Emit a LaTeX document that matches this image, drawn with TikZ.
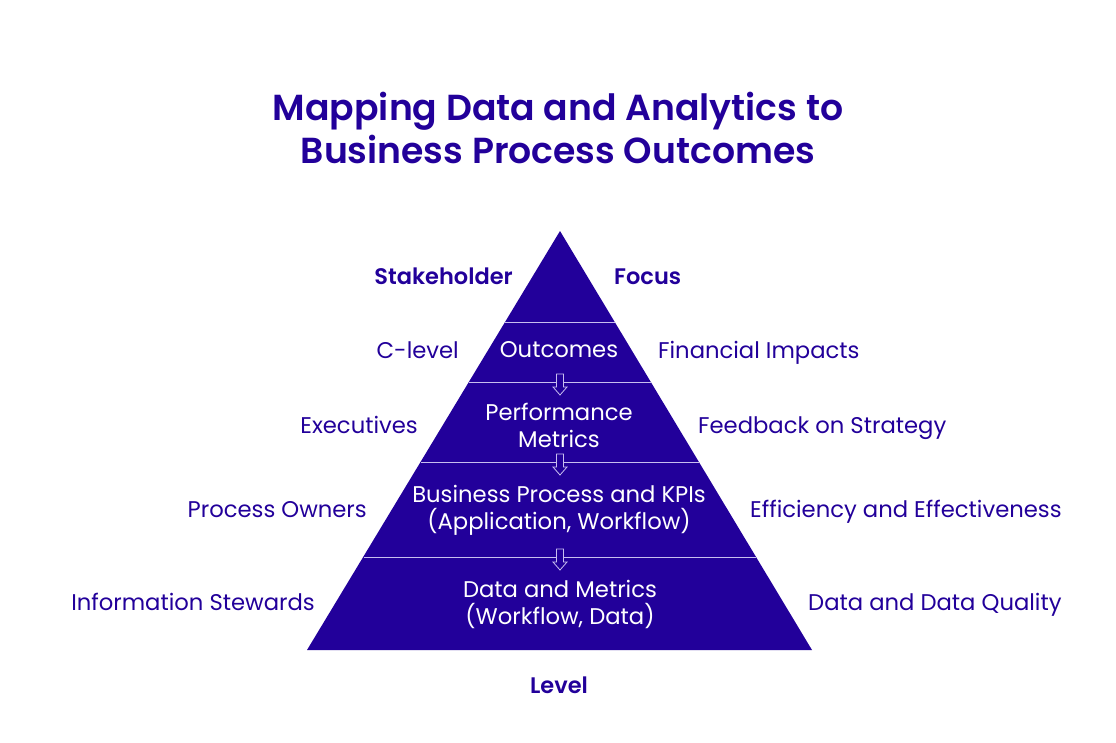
\documentclass[tikz,border=0pt]{standalone}
\usepackage{fontspec}
\setmainfont{Poppins}[BoldFont={Poppins SemiBold}]
\usetikzlibrary{calc}
\definecolor{indigo}{RGB}{34,0,154}
\definecolor{divline}{RGB}{200,190,240}
\begin{document}
\begin{tikzpicture}[x=1pt,y=-1pt,
  outlbl/.style={text=indigo,font=\fontsize{22.7}{27}\selectfont,inner sep=0pt,text height=16pt,text depth=0pt},
  inlbl/.style={text=white,font=\fontsize{22.7}{27}\selectfont,inner sep=0pt,align=center},
  headlbl/.style={text=indigo,font=\fontsize{22.5}{26}\selectfont\bfseries,inner sep=0pt,text height=16pt,text depth=0pt},
  divider/.style={draw=divline,line width=0.9pt},
  downarrow/.style={draw=divline,line width=0.8pt,fill=indigo}
]
\useasboundingbox (0,0) rectangle (1116,742);
% pyramid
\coordinate (apex) at (560,231);
\coordinate (bl) at (307,650);
\coordinate (br) at (812,650);
\fill[indigo] (apex) -- (br) -- (bl) -- cycle;
% dividers
\foreach \yy/\nm in {322/d1,382/d2,462/d3,557/d4}{
  \pgfmathsetmacro{\hw}{(\yy-231)/419*252.5}
  \coordinate (\nm l) at (560-\hw,\yy);
  \coordinate (\nm r) at (560+\hw,\yy);
  \draw[divider] (\nm l) -- (\nm r);
}
% down arrows
\foreach \yy in {382,462,557}{
  \draw[downarrow] (556.5,\yy-8) -- (563.5,\yy-8) -- (563.5,\yy+5) -- (567,\yy+5)
     -- (560,\yy+13) -- (553,\yy+5) -- (556.5,\yy+5) -- cycle;
}
% title
\node[text=indigo,font=\fontsize{36.2}{43}\selectfont\bfseries,align=center,inner sep=0pt] (title) at (558,128)
  {Mapping Data and Analytics to\\Business Process Outcomes};
% headers
\node[headlbl,anchor=east] (stake) at (513,276) {Stakeholder};
\node[headlbl,anchor=west] (focus) at (614,276) {Focus};
\node[headlbl] (level) at (559,685) {Level};
% inner labels
\node[inlbl] (outc) at (559,350) {Outcomes};
\node[inlbl] (perf) at (559,425) {Performance\\Metrics};
\node[inlbl] (bp) at (559,510) {Business Process and KPIs\\(Application, Workflow)};
\node[inlbl] (dm) at (560,604) {Data and Metrics\\(Workflow, Data)};
% left labels
\node[outlbl,anchor=east] (cl) at (459,350) {C-level};
\node[outlbl,anchor=east] (ex) at (418,425) {Executives};
\node[outlbl,anchor=east] (po) at (367,509) {Process Owners};
\node[outlbl,anchor=east] (is) at (315,602) {Information Stewards};
% right labels
\node[outlbl,anchor=west] (fi) at (658,350) {Financial Impacts};
\node[outlbl,anchor=west] (fs) at (698,425) {Feedback on Strategy};
\node[outlbl,anchor=west] (ee) at (750,509) {Efficiency and Effectiveness};
\node[outlbl,anchor=west] (dq) at (808,602) {Data and Data Quality};
\end{tikzpicture}
\end{document}
